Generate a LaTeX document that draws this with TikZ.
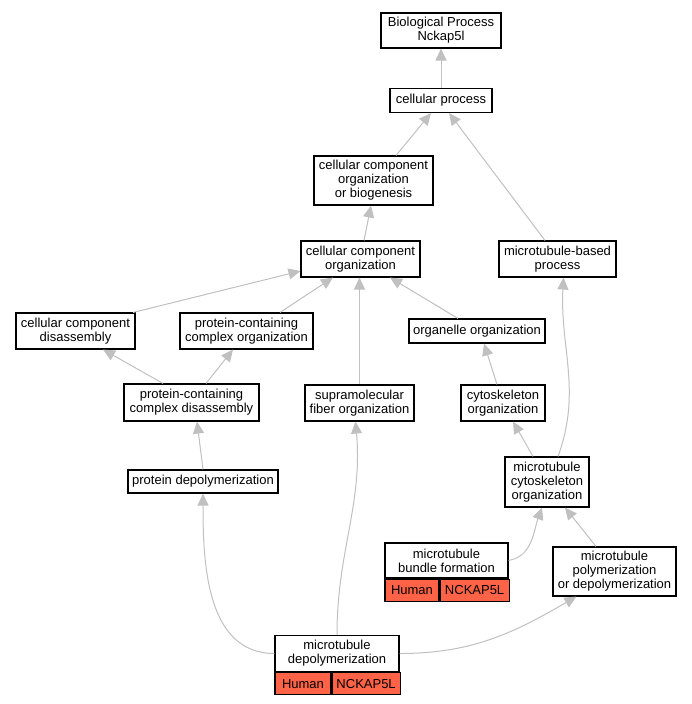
\documentclass[tikz,border=0pt]{standalone}
\usepackage{fontspec}
\setmainfont{Liberation Sans}
\usetikzlibrary{arrows.meta,calc}

\begin{document}
\begin{tikzpicture}[x=1pt,y=-1pt,
    term/.style={draw=black, line width=1.1pt, fill=white, inner sep=0pt, align=center,
      font=\fontsize{13}{14}\selectfont},
    genecell/.style={draw=black, line width=1.1pt, fill=tomatored, inner sep=0pt,
      minimum height=22, anchor=north west, font=\fontsize{13}{14}\selectfont},
    isa/.style={draw=edgegray, line width=1pt, -{Triangle[length=12pt,width=11pt]}}]
  % Define colors
  \definecolor{edgegray}{RGB}{192,192,192}
  \definecolor{tomatored}{RGB}{255,99,71}

  \useasboundingbox (0,0) rectangle (692,704);

  % GO terms
  \node[term, minimum width=120, minimum height=35] (bp) at (441,30.5) {Biological Process\\Nckap5l};
  \node[term, minimum width=102, minimum height=24] (cp) at (441,100.5) {cellular process};
  \node[term, minimum width=119, minimum height=49] (ccoob) at (373.5,180.5) {cellular component\\organization\\or biogenesis};
  \node[term, minimum width=119, minimum height=36] (cco) at (360.5,259) {cellular component\\organization};
  \node[term, minimum width=117, minimum height=36] (mbp) at (557.5,259) {microtubule-based\\process};
  \node[term, minimum width=119, minimum height=36] (ccd) at (75.5,331) {cellular component\\disassembly};
  \node[term, minimum width=133, minimum height=36] (pcco) at (246.5,331) {protein-containing\\complex organization};
  \node[term, minimum width=136, minimum height=24] (org) at (477,331) {organelle organization};
  \node[term, minimum width=135, minimum height=37] (pccd) at (191.5,402.5) {protein-containing\\complex disassembly};
  \node[term, minimum width=109, minimum height=36] (sfo) at (359.5,403) {supramolecular\\fiber organization};
  \node[term, minimum width=84, minimum height=36] (cyto) at (503,403) {cytoskeleton\\organization};
  \node[term, minimum width=150, minimum height=23] (pd) at (203,481.5) {protein depolymerization};
  \node[term, minimum width=84, minimum height=50] (mco) at (547,482) {microtubule\\cytoskeleton\\organization};
  \node[term, minimum width=123, minimum height=49] (mpod) at (614.5,571.5) {microtubule\\polymerization\\or depolymerization};

  % Annotated terms with gene table
  \node[term, minimum width=123, minimum height=35] (mbf) at (446.5,560.5) {microtubule\\bundle formation};
  \node[genecell, minimum width=54] (mbfhuman) at (mbf.south west) {Human};
  \node[genecell, minimum width=69] (mbfgene) at (mbfhuman.north east) {NCKAP5L};
  \node[term, minimum width=124, minimum height=36] (md) at (337,653.5) {microtubule\\depolymerization};
  \node[genecell, minimum width=56] (mdhuman) at (md.south west) {Human};
  \node[genecell, minimum width=68] (mdgene) at (mdhuman.north east) {NCKAP5L};

  % is_a edges
  \draw[isa] (cp) -- (bp);
  \draw[isa] ([xshift=22.5pt]ccoob.north) -- ([xshift=-10pt]cp.south);
  \draw[isa] ([xshift=-12.5pt]mbp.north) -- ([xshift=8pt]cp.south);
  \draw[isa] ([xshift=3.5pt]cco.north) -- ([xshift=-2.5pt]ccoob.south);
  \draw[isa] ([xshift=57.5pt]ccd.north) -- ([yshift=-12pt]cco.west);
  \draw[isa] ([xshift=33.5pt]pcco.north) -- ([xshift=-27.5pt]cco.south);
  \draw[isa] ([xshift=-19pt]org.north) -- ([xshift=29.5pt]cco.south);
  \draw[isa] (sfo.north) -- (sfo.north |- cco.south);
  \draw[isa] ([xshift=-28.5pt]pccd.north) -- ([xshift=27.5pt]ccd.south);
  \draw[isa] ([xshift=14.5pt]pccd.north) -- ([xshift=-13.5pt]pcco.south);
  \draw[isa] ([xshift=-6pt]cyto.north) -- ([xshift=7pt]org.south);
  \draw[isa] (pd.north) -- ([xshift=5.5pt]pccd.south);
  \draw[isa] ([xshift=-14pt]mco.north) -- ([xshift=10pt]cyto.south);
  \draw[isa] ([xshift=11pt]mco.north) to[out=70,in=-93] ([xshift=6pt]mbp.south);
  \draw[isa] (mbf.east) to[out=10,in=-110] ([xshift=-5pt]mco.south);
  \draw[isa] ([xshift=-18.5pt]mpod.north) -- ([xshift=18pt]mco.south);
  \draw[isa] (md.west) to[out=180,in=-90] (pd.south);
  \draw[isa] (md.north) to[out=90,in=-85] ([xshift=-4pt]sfo.south);
  \draw[isa] (md.east) to[out=0,in=-150] ([xshift=24pt]mpod.south west);
\end{tikzpicture}
\end{document}
